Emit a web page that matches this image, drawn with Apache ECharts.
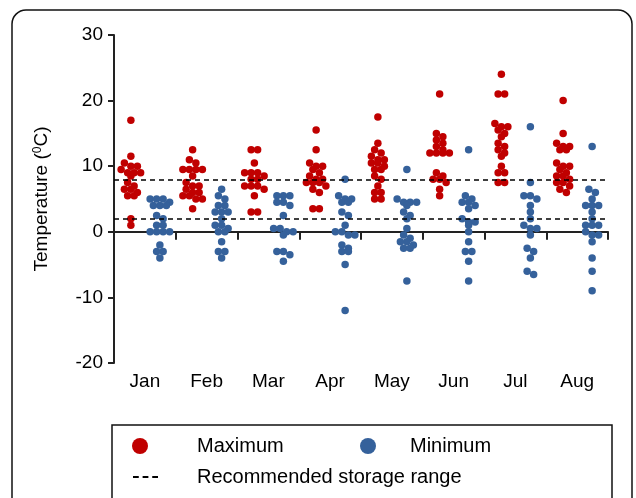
<!DOCTYPE html>
<html>
<head>
<meta charset="utf-8">
<script src="https://cdn.jsdelivr.net/npm/echarts@6/dist/echarts.min.js"></script>
<style>html,body{margin:0;padding:0;background:#fff;}#c{width:636px;height:498px;}</style>
</head>
<body>
<div id="c"></div>
<script>
const months = ['Jan', 'Feb', 'Mar', 'Apr', 'May', 'Jun', 'Jul', 'Aug'];
const yTicks = { min: -20, max: 30, interval: 10 };
const storageRange = [8, 2];

const maxJan = [17, 11.5, 10.5, 10, 10, 9.5, 9, 9, 9, 8.5, 7.5, 7, 6.5, 6.5, 6, 5.5, 5.5, 2, 1];
const maxFeb = [12.5, 11, 10.5, 9.5, 9.5, 9.5, 9.5, 8.5, 7.5, 7, 7, 6.5, 6, 6, 5.5, 5.5, 5, 5, 3.5];
const maxMar = [12.5, 12.5, 10.5, 9, 9, 9, 8.5, 8, 8, 7, 7, 7, 6.5, 5.5, 3, 3];
const maxApr = [15.5, 12.5, 10.5, 10, 10, 9.5, 9, 8.5, 8, 8, 7.5, 7.5, 7.5, 7, 6.5, 6, 3.5, 3.5];
const maxMay = [17.5, 13.5, 12.5, 12, 11.5, 11, 11, 10.5, 10.5, 10, 9.5, 9.5, 8.5, 8, 7, 6, 6, 5, 5];
const maxJun = [21, 15, 14.5, 14, 13.5, 13, 12.5, 12, 12, 12, 12, 9, 8.5, 8, 8, 7.5, 6.5, 5.5];
const maxJul = [24, 21, 21, 16.5, 16, 16, 15.5, 15, 14.5, 13.5, 13, 12.5, 12, 11.5, 10, 9, 9, 7.5, 7.5];
const maxAug = [20, 15, 13.5, 13, 13, 12.5, 12.5, 10.5, 10, 10, 9.5, 9, 8.5, 8.5, 8, 7.5, 7.5, 7, 6.5, 6];

const minJan = [5, 5, 5, 4.5, 4, 4, 4, 2.5, 2, 1, 1, 0, 0, 0, 0, -2, -3, -3, -4];
const minFeb = [6.5, 5.5, 5, 4, 4, 3, 3, 3, 2, 1, 1, 0.5, 0, 0, -1.5, -3, -3, -4];
const minMar = [5.5, 5.5, 5.5, 4.5, 4.5, 4, 2.5, 0.5, 0.5, 0, 0, -0.5, -3, -3, -3.5, -4.5];
const minApr = [8, 5.5, 5, 5, 4.5, 4.5, 3, 2.5, 1, 0, 0, -0.5, -0.5, -2, -2.5, -3, -3, -5, -12];
const minMay = [9.5, 5, 4.5, 4.5, 4.5, 4, 3, 2.5, 2, 0.5, -0.5, -1, -1.5, -1.5, -2, -2.5, -2.5, -7.5];
const minJun = [12.5, 5.5, 5, 4.5, 4.5, 4, 3.5, 2, 1.5, 1.5, 1, 0, -1.5, -3, -3, -4.5, -7.5];
const minJul = [16, 7.5, 5.5, 5.5, 5, 4, 3, 2, 1, 0.5, 0.5, -0.5, -2.5, -3, -4, -6, -6.5];
const minAug = [13, 6.5, 6, 5, 4, 4, 4, 3, 2, 1, 1, 1, 0, -0.5, -0.5, -1.5, -4, -6, -9];

const maximumByMonth = [maxJan, maxFeb, maxMar, maxApr, maxMay, maxJun, maxJul, maxAug];
const minimumByMonth = [minJan, minFeb, minMar, minApr, minMay, minJun, minJul, minAug];

// layout
const W = 636, H = 498;
const grid = { left: 114, right: 28, top: 35, bottom: 135 };
const pxPerCat = (W - grid.left - grid.right) / months.length;
const pxPerDeg = (H - grid.top - grid.bottom) / (yTicks.max - yTicks.min);
const dotSize = 7.5;
const rowSpacingX = 6.5;   // px between dots in one row
const binDeg = 0.9;        // values within this range share a row

// Prism-like column scatter: group close values into rows, spread each row symmetrically
function swarm(values) {
  const idx = values.map((v, i) => i).sort((a, b) => values[b] - values[a]);
  const offs = new Array(values.length).fill(0);
  let bin = [];
  const flush = () => {
    bin.forEach((i, k) => { offs[i] = (k - (bin.length - 1) / 2) * rowSpacingX; });
    bin = [];
  };
  idx.forEach(i => {
    if (bin.length && values[bin[0]] - values[i] > binDeg) flush();
    bin.push(i);
  });
  flush();
  return offs;
}

function buildPoints(byMonth, centerPx) {
  const pts = [];
  byMonth.forEach((vals, m) => {
    const offs = swarm(vals);
    vals.forEach((v, k) => {
      pts.push([m + 0.5 + (centerPx + offs[k]) / pxPerCat, v]);
    });
  });
  return pts;
}

const RED = '#c00000', BLUE = '#35619b';
const FONT = 'Liberation Sans, Arial, sans-serif';

const chart = echarts.init(document.getElementById('c'), null, { renderer: 'canvas' });
chart.setOption({
  animation: false,
  backgroundColor: '#fff',
  grid: grid,
  xAxis: [
    {
      type: 'category', data: months, boundaryGap: true,
      axisLine: { lineStyle: { color: '#222', width: 2 } },
      axisTick: { show: true, interval: 0, length: 8, lineStyle: { color: '#222', width: 2 } },
      axisLabel: { fontSize: 19, color: '#000', margin: 9, fontFamily: FONT },
      splitLine: { show: false }
    },
    { type: 'value', min: 0, max: months.length, show: false }
  ],
  yAxis: {
    type: 'value', min: yTicks.min, max: yTicks.max, interval: yTicks.interval,
    axisLine: { show: true, lineStyle: { color: '#222', width: 2 } },
    axisTick: { show: true, length: 6, lineStyle: { color: '#222', width: 2 } },
    axisLabel: { fontSize: 19, color: '#000', margin: 11, fontFamily: FONT },
    splitLine: { show: false },
    name: '{a|Temperature (}{b|0}{a|C)}',
    nameLocation: 'middle', nameGap: 62,
    nameTextStyle: {
      rich: {
        a: { fontSize: 19, color: '#000', fontFamily: FONT },
        b: { fontSize: 12, color: '#000', fontFamily: FONT, padding: [0, 0, 8, 0] }
      }
    }
  },
  legend: [
    { data: ['Maximum'], left: 132, top: 436, padding: 0, icon: 'circle', itemWidth: 16, itemHeight: 16,
      textStyle: { fontSize: 20, color: '#000', fontFamily: FONT, padding: [0, 0, 0, 44] }, selectedMode: false },
    { data: ['Minimum'], left: 360, top: 436, padding: 0, icon: 'circle', itemWidth: 16, itemHeight: 16,
      textStyle: { fontSize: 20, color: '#000', fontFamily: FONT, padding: [0, 0, 0, 29] }, selectedMode: false },
    { data: ['Recommended storage range'], left: 133, top: 467, padding: 0,
      icon: 'path://M0,0h6v2h-6z M10,0h6v2h-6z M20,0h6v2h-6z', itemWidth: 25, itemHeight: 3,
      textStyle: { fontSize: 20, color: '#000', fontFamily: FONT, padding: [0, 0, 0, 34] }, selectedMode: false }
  ],
  graphic: [
    { type: 'rect', shape: { x: 12, y: 10, width: 620, height: 520, r: 14 },
      style: { fill: 'none', stroke: '#111', lineWidth: 1.5 }, silent: true, z: -1 },
    { type: 'rect', shape: { x: 112, y: 425, width: 500, height: 100 },
      style: { fill: 'none', stroke: '#111', lineWidth: 1.5 }, silent: true, z: -1 }
  ],
  series: [
    {
      name: 'Recommended storage range', type: 'line', xAxisIndex: 1, data: [],
      itemStyle: { color: '#000' }, lineStyle: { color: '#000', type: 'dashed' },
      markLine: {
        silent: true, symbol: 'none', label: { show: false },
        lineStyle: { color: '#000', type: [5, 4], width: 1.6 },
        data: storageRange.map(v => ({ yAxis: v }))
      }
    },
    {
      name: 'Maximum', type: 'scatter', xAxisIndex: 1, symbolSize: dotSize,
      itemStyle: { color: RED, opacity: 1 }, data: buildPoints(maximumByMonth, -14)
    },
    {
      name: 'Minimum', type: 'scatter', xAxisIndex: 1, symbolSize: dotSize,
      itemStyle: { color: BLUE, opacity: 1 }, data: buildPoints(minimumByMonth, 15)
    }
  ]
});
</script>
</body>
</html>
